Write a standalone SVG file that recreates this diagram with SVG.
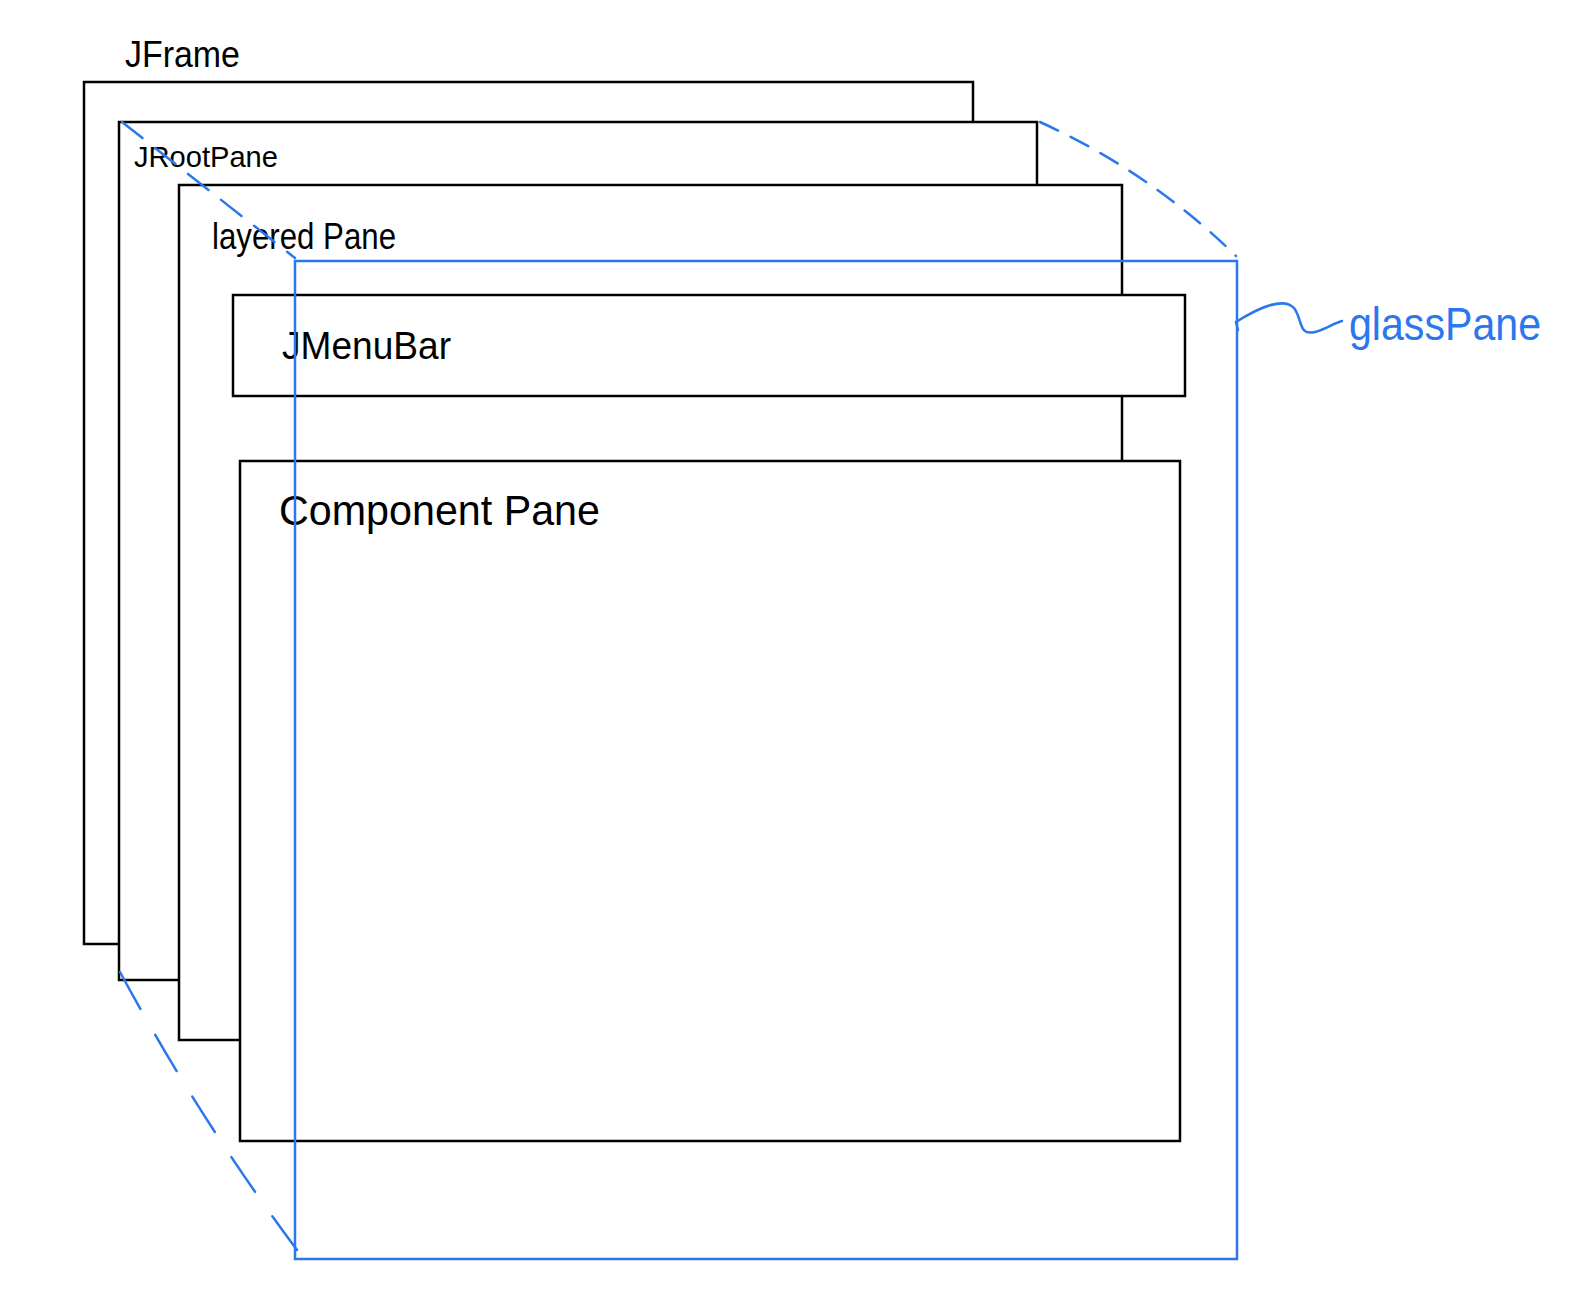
<svg xmlns="http://www.w3.org/2000/svg" width="1570" height="1312" viewBox="0 0 1570 1312">
<style>
.pane{fill:#ffffff;stroke:#000000;stroke-width:2.5}
.glass{fill:none;stroke:#2b78ee;stroke-width:2.5}
.lbl{font-family:"Liberation Sans",Arial,sans-serif;fill:#000000}
.blbl{font-family:"Liberation Sans",Arial,sans-serif;fill:#2b78ee}
.dash{fill:none;stroke:#2b78ee;stroke-width:2.5;stroke-linecap:round}
</style>
<rect width="1570" height="1312" fill="#ffffff"/>
<g id="jframe">
<rect class="pane" x="84" y="82" width="889" height="862"/>
<text class="lbl" x="125" y="67" font-size="36" textLength="115" lengthAdjust="spacingAndGlyphs">JFrame</text>
</g>
<g id="jrootpane">
<rect class="pane" x="119" y="122" width="918" height="858"/>
<text class="lbl" x="134" y="167" font-size="30" textLength="144" lengthAdjust="spacingAndGlyphs">JRootPane</text>
</g>
<g id="layeredpane">
<rect class="pane" x="179" y="185" width="943" height="855"/>
<text class="lbl" x="212" y="249" font-size="36" textLength="184" lengthAdjust="spacingAndGlyphs">layered Pane</text>
</g>
<g id="jmenubar">
<rect class="pane" x="233" y="295" width="952" height="101"/>
<text class="lbl" x="282" y="359" font-size="38" textLength="169" lengthAdjust="spacingAndGlyphs">JMenuBar</text>
</g>
<g id="componentpane">
<rect class="pane" x="240" y="461" width="940" height="680"/>
<text class="lbl" x="279" y="525" font-size="42" textLength="321" lengthAdjust="spacingAndGlyphs">Component Pane</text>
</g>
<g id="glasspane">
<rect class="glass" x="295" y="261" width="942" height="998"/>
<text class="blbl" x="1349" y="340" font-size="46" textLength="192" lengthAdjust="spacingAndGlyphs">glassPane</text>
</g>
<g id="connectors">
<path class="dash" d="M122,122 L295,258" stroke-dasharray="26,16"/>
<path class="dash" d="M1040,122 Q1150,172 1236,256" stroke-dasharray="20,14"/>
<path class="dash" d="M120,972 Q200,1120 297,1250" stroke-dasharray="42,30"/>
<path class="dash" d="M1236,322 C1255,310 1283,296 1294,308 C1303,320 1298,336 1315,332 C1326,329 1334,323 1342,321"/>
<path class="dash" d="M1236,322 L1238,330"/>
</g>
</svg>
